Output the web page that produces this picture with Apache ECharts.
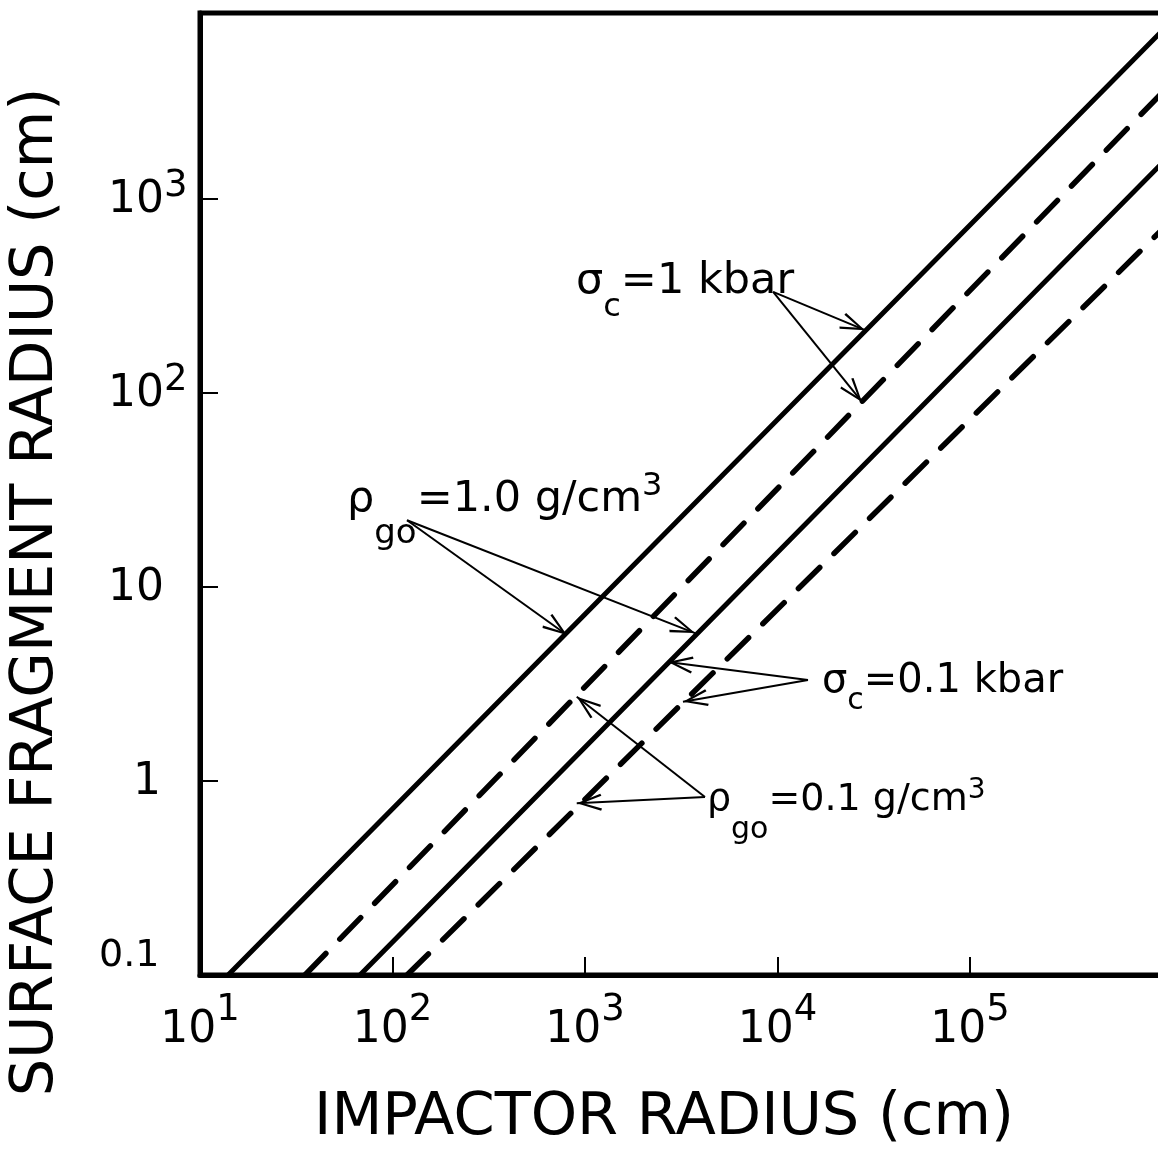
<!DOCTYPE html>
<html>
<head>
<meta charset="utf-8">
<title>Surface fragment radius vs impactor radius</title>
<script src="https://cdn.jsdelivr.net/npm/echarts@6/dist/echarts.min.js"></script>
<style>
  html, body { margin: 0; padding: 0; background: #fff; }
  #chart { width: 1158px; height: 1150px; }
</style>
</head>
<body>
<div id="chart"></div>
<script>
// data (cm). each curve is a straight line on log-log axes,
// so it is given by where it leaves the bottom edge and where it meets the right edge
var solidHighX = [14, 1e6];    var solidHighY = [0.1, 7400];   // sigma_c = 1 kbar,   rho = 1.0
var dashHighX  = [35.1, 1e6];  var dashHighY  = [0.1, 3550];   // sigma_c = 1 kbar,   rho = 0.1
var solidLowX  = [67.8, 1e6];  var solidLowY  = [0.1, 1540];   // sigma_c = 0.1 kbar, rho = 1.0
var dashLowX   = [119, 1e6];   var dashLowY   = [0.1, 700];    // sigma_c = 0.1 kbar, rho = 0.1

var xRange = [10, 1e6];
var yRange = [0.1, 9100];

// annotation anchors [x, y] in data units
var noteSigma1  = [898, 373];
var noteRho1    = [58, 28.3];
var noteSigma01 = [17030, 3.26];
var noteRho01   = [4300, 0.80];

// arrows: [from, to] in data units
var arrowsSigma1  = [[[9490, 332], [28480, 211]], [[9490, 332], [27480, 90]]];
var arrowsRho1    = [[[119, 22.1], [806, 5.66]], [[119, 22.1], [3727, 5.79]]];
var arrowsSigma01 = [[[14400, 3.32], [2698, 4.11]], [[14400, 3.32], [3228, 2.56]]];
var arrowsRho01   = [[[4200, 0.827], [906, 2.72]], [[4200, 0.827], [906, 0.767]]];


var FONT = 'DejaVu Sans';
var ARROW = 'path://M10,0L20,24L17.5,25L10,6L2.5,25L0,24Z';

function pairs(xs, ys) {
	var out = [];
	for (var i = 0; i < xs.length; i++) {
		out.push([xs[i], ys[i]]);
	}
	return out;
}

// one piece of rich text, centred `centre` px below the top of a line `h` px high
function piece(size, centre, h, left) {
	return {
		fontFamily: FONT, fontSize: size, color: '#000',
		lineHeight: h, verticalAlign: 'top',
		padding: [centre - size / 2, 0, 0, left || 0]
	};
}

function noteLabel(text, size, subSize, subDrop, supSize, supRise) {
	return {
		show: true, position: 'right', distance: 0, offset: [0, 10],
		formatter: text,
		rich: {
			main: piece(size, 40, 100),
			sub: piece(subSize, 40 + subDrop, 100),
			sup: piece(supSize, 40 - supRise, 100)
		}
	};
}

function arrowLines(list) {
	var out = [];
	for (var i = 0; i < list.length; i++) {
		out.push([
			{coord: list[i][0], symbol: 'none'},
			{coord: list[i][1], symbol: ARROW, symbolSize: [17, 25], symbolOffset: [0, 12.5]}
		]);
	}
	return out;
}

function expOf(v) {
	var l = Math.log(v) / Math.LN10;
	var e = Math.round(l);
	return Math.abs(l - e) < 0.01 ? e : null;
}

var solidStyle = {color: '#000', width: 5, type: 'solid', cap: 'round'};
var dashStyle = {color: '#000', width: 5.5, type: [30, 20], cap: 'round'};

var option = {
	animation: false,
	backgroundColor: '#fff',
	grid: {
		left: 200, top: 13, width: 962.5, height: 962,
		outerBoundsMode: 'none',
		show: true, borderColor: '#000', borderWidth: 5, backgroundColor: 'transparent'
	},
	xAxis: {
		type: 'log', logBase: 10,
		min: xRange[0], max: xRange[1],
		axisLine: {show: true, onZero: false, lineStyle: {color: '#000', width: 5}},
		axisTick: {show: true, inside: true, length: 18, lineStyle: {color: '#000', width: 2}},
		splitLine: {show: false},
		minorTick: {show: false},
		axisLabel: {
			margin: 11,
			formatter: function (v) {
				var e = expOf(v);
				if (e === null || e > 5) return '';
				return '{base|10}{sup|' + e + '}';
			},
			rich: {
				base: piece(44, 45, 70),
				sup: piece(37, 24, 70)
			}
		}
	},
	yAxis: {
		type: 'log', logBase: 10,
		min: yRange[0], max: yRange[1],
		axisLine: {show: true, onZero: false, lineStyle: {color: '#000', width: 5}},
		axisTick: {show: true, inside: true, length: 18, lineStyle: {color: '#000', width: 2}},
		splitLine: {show: false},
		minorTick: {show: false},
		axisLabel: {
			margin: 101,
			align: 'left',
			formatter: function (v) {
				var e = expOf(v);
				if (e === null || e > 3) return '';
				if (e === -1) return '{small|0.1}';
				if (e === 0) return '{one|1}';
				if (e === 1) return '{base|10}';
				return '{base|10}{sup|' + e + '}';
			},
			rich: {
				base: piece(44, 47, 90, 9),
				sup: piece(37, 32, 90),
				small: piece(38, 26, 90),
				one: piece(44, 47, 90, 34)
			}
		}
	},
	graphic: [
		{
			type: 'text', x: 664, y: 1119, silent: true,
			style: {
				text: 'IMPACTOR RADIUS (cm)', fill: '#000',
				font: '59px "DejaVu Sans"',
				align: 'center', verticalAlign: 'middle',
				textAlign: 'center', textVerticalAlign: 'middle'
			}
		},
		{
			type: 'text', x: 37, y: 592, rotation: Math.PI / 2, silent: true,
			style: {
				text: 'SURFACE FRAGMENT RADIUS (cm)', fill: '#000',
				font: '59px "DejaVu Sans"',
				align: 'center', verticalAlign: 'middle',
				textAlign: 'center', textVerticalAlign: 'middle'
			}
		}
	],
	series: [
		{
			name: 'sigma 1 kbar, rho 1.0', type: 'line',
			data: pairs(solidHighX, solidHighY),
			symbol: 'none', lineStyle: solidStyle, silent: true, z: 3,
			markLine: {
				silent: true, animation: false,
				symbol: ['none', 'none'],
				label: {show: false},
				lineStyle: {color: '#000', width: 2, type: 'solid'},
				emphasis: {disabled: true},
				data: [].concat(arrowLines(arrowsSigma1), arrowLines(arrowsRho1),
					arrowLines(arrowsSigma01), arrowLines(arrowsRho01))
			},
			markPoint: {
				silent: true, animation: false,
				symbol: 'circle', symbolSize: 0,
				itemStyle: {color: 'rgba(0,0,0,0)'},
				data: [
					{coord: noteSigma1, label: noteLabel('{main|σ}{sub|c}{main|=1 kbar}', 43, 32, 26, 30, 12)},
					{coord: noteRho1, label: noteLabel('{main|ρ}{sub|go}{main|=1.0 g/cm}{sup|3}', 43, 34, 35, 32, 13)},
					{coord: noteSigma01, label: noteLabel('{main|σ}{sub|c}{main|=0.1 kbar}', 40, 30, 20, 26, 10)},
					{coord: noteRho01, label: noteLabel('{main|ρ}{sub|go}{main|=0.1 g/cm}{sup|3}', 38, 30, 30, 28, 9)}
				]
			}
		},
		{
			name: 'sigma 1 kbar, rho 0.1', type: 'line',
			data: pairs(dashHighX, dashHighY),
			symbol: 'none', lineStyle: dashStyle, silent: true, z: 3
		},
		{
			name: 'sigma 0.1 kbar, rho 1.0', type: 'line',
			data: pairs(solidLowX, solidLowY),
			symbol: 'none', lineStyle: solidStyle, silent: true, z: 3
		},
		{
			name: 'sigma 0.1 kbar, rho 0.1', type: 'line',
			data: pairs(dashLowX, dashLowY),
			symbol: 'none', lineStyle: dashStyle, silent: true, z: 3
		}
	]
};

var myChart = echarts.init(document.getElementById('chart'));
myChart.setOption(option);
window.onresize = myChart.resize;
</script>
</body>
</html>
